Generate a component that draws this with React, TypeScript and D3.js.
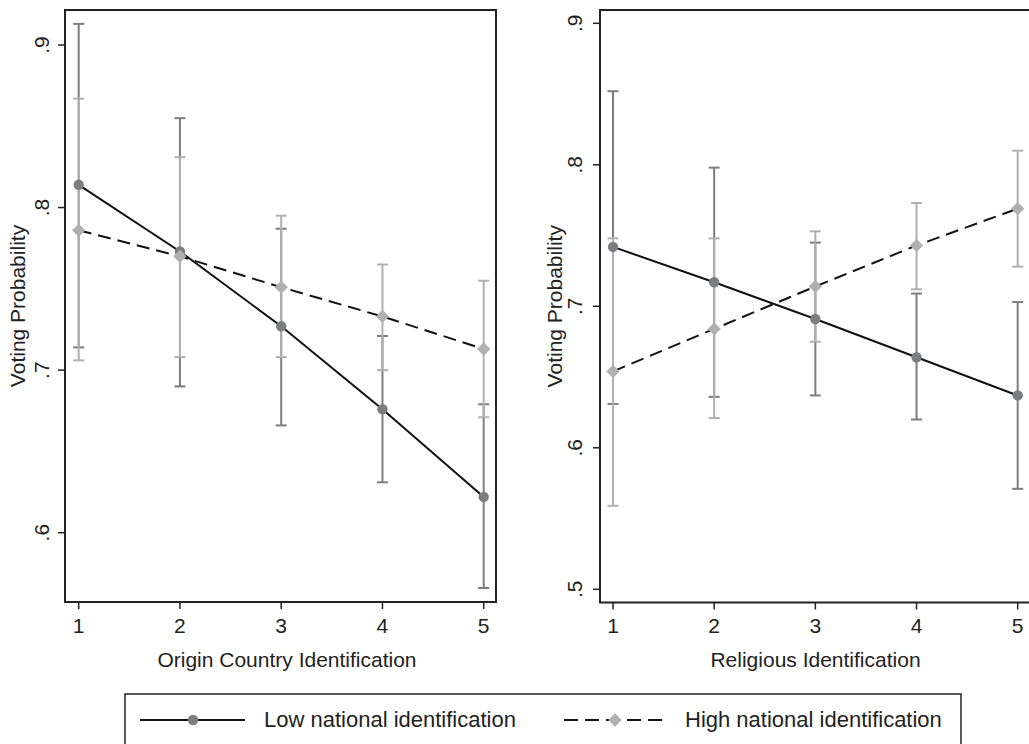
import * as React from 'react'
import * as d3 from 'd3'

const categories = [1, 2, 3, 4, 5]

const originLowMean = [0.814, 0.773, 0.727, 0.676, 0.622]
const originLowLo = [0.714, 0.690, 0.666, 0.631, 0.566]
const originLowHi = [0.913, 0.855, 0.787, 0.721, 0.679]
const originHighMean = [0.786, 0.770, 0.751, 0.733, 0.713]
const originHighLo = [0.706, 0.708, 0.708, 0.700, 0.671]
const originHighHi = [0.867, 0.831, 0.795, 0.765, 0.755]

const religLowMean = [0.742, 0.717, 0.691, 0.664, 0.637]
const religLowLo = [0.631, 0.636, 0.637, 0.620, 0.571]
const religLowHi = [0.852, 0.798, 0.745, 0.709, 0.703]
const religHighMean = [0.654, 0.684, 0.714, 0.743, 0.769]
const religHighLo = [0.559, 0.621, 0.675, 0.712, 0.728]
const religHighHi = [0.748, 0.748, 0.753, 0.773, 0.810]

const originTicks = [0.6, 0.7, 0.8, 0.9]
const religTicks = [0.5, 0.6, 0.7, 0.8, 0.9]

const yTitle = 'Voting Probability'
const legendLabels = ['Low national identification', 'High national identification']

const LOW = '#7c7d80'
const HIGH = '#b0b0b0'
const FONT = '"Liberation Sans", Arial, Helvetica, sans-serif'
const FS = 21

const tickLabel = (v) => d3.format('.1f')(v).replace(/^0/, '')

// circle for low, square turned 45deg for high
const circle = d3.symbol().type(d3.symbolCircle).size(85)
const diamond = d3.symbol().type(d3.symbolSquare).size(88)

function Marker({ cx, cy, color, isDiamond }) {
  if (isDiamond) {
    return <path d={diamond()} transform={`translate(${cx},${cy}) rotate(45)`} fill={color} />
  }
  return <path d={circle()} transform={`translate(${cx},${cy})`} fill={color} />
}

function ErrorBars({ x, y, lo, hi, color }) {
  return (
    <g stroke={color} strokeWidth={2}>
      {categories.map((c, i) => (
        <g key={c}>
          <line x1={x(c)} x2={x(c)} y1={y(lo[i])} y2={y(hi[i])} />
          <line x1={x(c) - 5.5} x2={x(c) + 5.5} y1={y(lo[i])} y2={y(lo[i])} />
          <line x1={x(c) - 5.5} x2={x(c) + 5.5} y1={y(hi[i])} y2={y(hi[i])} />
        </g>
      ))}
    </g>
  )
}

function Series({ x, y, mean, color, dashed }) {
  const line = d3
    .line()
    .x((d, i) => x(categories[i]))
    .y((d) => y(d))
  return (
    <g>
      <path d={line(mean)} fill="none" stroke="#111" strokeWidth={2} strokeDasharray={dashed ? '13 7' : null} />
      {mean.map((v, i) => (
        <Marker key={i} cx={x(categories[i])} cy={y(v)} color={color} isDiamond={dashed} />
      ))}
    </g>
  )
}

function Panel({ left, right, top, bottom, x, y, ticks, title, titleX, yTitleX, yTickX, low, high }) {
  return (
    <g fontFamily={FONT} fontSize={FS} fill="#222">
      <ErrorBars x={x} y={y} lo={low[1]} hi={low[2]} color={LOW} />
      <ErrorBars x={x} y={y} lo={high[1]} hi={high[2]} color={HIGH} />
      <Series x={x} y={y} mean={low[0]} color={LOW} />
      <Series x={x} y={y} mean={high[0]} color={HIGH} dashed />
      <rect x={left} y={top} width={right - left} height={bottom - top} fill="none" stroke="#222" strokeWidth={2} />
      {ticks.map((t) => (
        <g key={t}>
          <line x1={left - 7} x2={left} y1={y(t)} y2={y(t)} stroke="#222" strokeWidth={1.5} />
          <text transform={`translate(${yTickX},${y(t)}) rotate(-90)`} textAnchor="middle">
            {tickLabel(t)}
          </text>
        </g>
      ))}
      {categories.map((c) => (
        <g key={c}>
          <line x1={x(c)} x2={x(c)} y1={bottom} y2={bottom + 7} stroke="#222" strokeWidth={1.5} />
          <text x={x(c)} y={633} textAnchor="middle">
            {c}
          </text>
        </g>
      ))}
      <text x={titleX} y={667} textAnchor="middle">
        {title}
      </text>
      <text transform={`translate(${yTitleX},${(top + bottom) / 2}) rotate(-90)`} textAnchor="middle">
        {yTitle}
      </text>
    </g>
  )
}

export default function App() {
  const xL = d3.scaleLinear().domain([1, 5]).range([78.7, 483.7])
  const yL = d3.scaleLinear().domain([0.6, 0.9]).range([532.7, 45])
  const xR = d3.scaleLinear().domain([1, 5]).range([613, 1017.7])
  const yR = d3.scaleLinear().domain([0.5, 0.9]).range([589.3, 23.3])

  return (
    <svg width={1029} height={744} style={{ position: 'absolute', left: 0, top: 0, background: '#fff' }}>
      <rect width={1029} height={744} fill="#fff" />
      <Panel
        left={65}
        right={496}
        top={10}
        bottom={602}
        x={xL}
        y={yL}
        ticks={originTicks}
        title="Origin Country Identification"
        titleX={287}
        yTitleX={25}
        yTickX={49}
        low={[originLowMean, originLowLo, originLowHi]}
        high={[originHighMean, originHighLo, originHighHi]}
      />
      <Panel
        left={600}
        right={1031}
        top={10}
        bottom={602.5}
        x={xR}
        y={yR}
        ticks={religTicks}
        title="Religious Identification"
        titleX={815.5}
        yTitleX={562}
        yTickX={582}
        low={[religLowMean, religLowLo, religLowHi]}
        high={[religHighMean, religHighLo, religHighHi]}
      />
      <g fontFamily={FONT} fontSize={22} fill="#222">
        <rect x={125} y={694} width={836} height={70} fill="none" stroke="#222" strokeWidth={1.5} />
        <line x1={140} x2={245} y1={720} y2={720} stroke="#111" strokeWidth={2} />
        <Marker cx={193} cy={720} color={LOW} />
        <text x={264} y={727}>{legendLabels[0]}</text>
        <line x1={564} x2={668} y1={720} y2={720} stroke="#111" strokeWidth={2} strokeDasharray="14 7" />
        <Marker cx={615} cy={720} color={HIGH} isDiamond />
        <text x={685} y={727}>{legendLabels[1]}</text>
      </g>
    </svg>
  )
}
